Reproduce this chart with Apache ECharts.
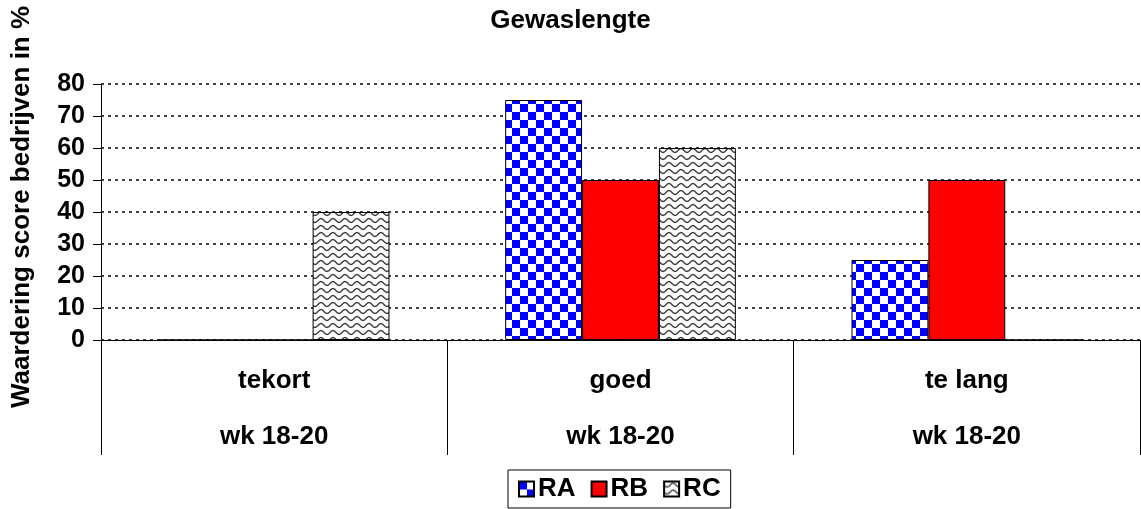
<!DOCTYPE html>
<html>
<head>
<meta charset="utf-8">
<script src="https://cdn.jsdelivr.net/npm/echarts@6/dist/echarts.min.js"></script>
<style>
  html, body { margin: 0; padding: 0; background: #fff; }
  #chart { width: 1141px; height: 509px; }
</style>
</head>
<body>
<div id="chart"></div>
<script>
const categories = ['tekort', 'goed', 'te lang']
const periods = ['wk 18-20', 'wk 18-20', 'wk 18-20']
const seriesNames = ['RA', 'RB', 'RC']
const raValues = [0, 75, 25]
const rbValues = [0, 50, 50]
const rcValues = [40, 60, 0]
const yTicks = [0, 10, 20, 30, 40, 50, 60, 70, 80]

const FONT = 'Liberation Sans, Arial, sans-serif'

// blue/white checkerboard fill
function checkerPattern() {
  const c = document.createElement('canvas')
  c.width = 16; c.height = 16
  const ctx = c.getContext('2d')
  ctx.fillStyle = '#fff'
  ctx.fillRect(0, 0, 16, 16)
  ctx.fillStyle = '#0000ff'
  ctx.fillRect(0, 0, 8, 8)
  ctx.fillRect(8, 8, 8, 8)
  return c
}

// wavy grey lines fill
function wavePattern() {
  const c = document.createElement('canvas')
  c.width = 12; c.height = 7
  const ctx = c.getContext('2d')
  ctx.fillStyle = '#fff'
  ctx.fillRect(0, 0, 12, 7)
  ctx.strokeStyle = '#3a3a3a'
  ctx.lineWidth = 1.4
  ctx.beginPath()
  for (let x = -1; x <= 13; x += 0.5) {
    const y = 3.5 + 2 * Math.sin(x / 12 * Math.PI * 2)
    if (x === -1) ctx.moveTo(x, y); else ctx.lineTo(x, y)
  }
  ctx.stroke()
  return c
}

const fills = [
  { image: checkerPattern(), repeat: 'repeat' },
  '#ff0000',
  { image: wavePattern(), repeat: 'repeat' }
]
const values = [raValues, rbValues, rcValues]

const chart = echarts.init(document.getElementById('chart'), null, { renderer: 'canvas' })

const option = {
  animation: false,
  backgroundColor: '#fff',
  title: {
    text: 'Gewaslengte',
    left: 'center',
    top: 3,
    textStyle: { fontFamily: FONT, fontSize: 26, fontWeight: 'bold', color: '#000' }
  },
  legend: {
    data: seriesNames,
    bottom: 1,
    left: 508,
    icon: 'rect',
    itemWidth: 15,
    itemHeight: 15,
    itemGap: 15,
    padding: [6, 10, 6, 10],
    borderColor: '#000',
    borderWidth: 1,
    textStyle: { fontFamily: FONT, fontSize: 26, fontWeight: 'bold', color: '#000', padding: [0, 0, 0, -1] }
  },
  grid: {
    left: 101,
    right: 1,
    top: 84,
    bottom: 169,
    containLabel: false
  },
  xAxis: {
    type: 'category',
    data: categories.map((c, i) => c + '\n\n' + periods[i]),
    boundaryGap: true,
    axisLine: { lineStyle: { color: '#000', width: 1 } },
    axisTick: { show: true, length: 115, interval: 0, lineStyle: { color: '#000' } },
    axisLabel: {
      interval: 0,
      margin: 27,
      lineHeight: 28,
      fontFamily: FONT,
      fontSize: 26,
      fontWeight: 'bold',
      color: '#000'
    }
  },
  yAxis: {
    type: 'value',
    min: yTicks[0],
    max: yTicks[yTicks.length - 1],
    interval: 10,
    name: 'Waardering score bedrijven in %',
    nameLocation: 'middle',
    nameGap: 66,
    nameTextStyle: { fontFamily: FONT, fontSize: 26, fontWeight: 'bold', color: '#000', padding: [0, 0, 0, 10] },
    axisLine: { show: true, lineStyle: { color: '#000', width: 1 } },
    axisTick: { show: true, length: 8, lineStyle: { color: '#000' } },
    axisLabel: { margin: 16, fontFamily: FONT, fontSize: 25, fontWeight: 'bold', color: '#000' },
    splitLine: { show: true, lineStyle: { color: '#000', width: 1.5, type: [3, 4] } }
  },
  series: seriesNames.map((name, i) => ({
    name: name,
    type: 'bar',
    data: values[i],
    barGap: '0%',
    barCategoryGap: '33.4%',
    itemStyle: { color: fills[i], borderColor: '#000', borderWidth: 1 }
  }))
}

chart.setOption(option)
</script>
</body>
</html>
